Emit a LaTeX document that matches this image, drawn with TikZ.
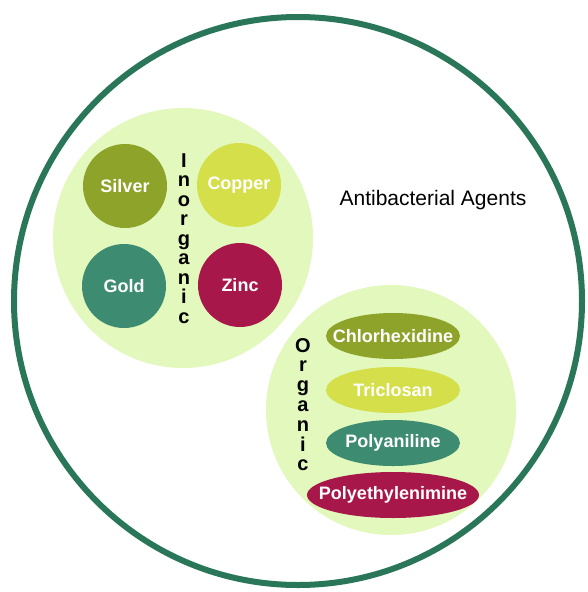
\documentclass[tikz,border=0pt]{standalone}
\usepackage{fontspec}
\setmainfont{Liberation Sans}
\usepackage{tikz}

\definecolor{ringgreen}{HTML}{2A7658}
\definecolor{palegreen}{HTML}{E2F8BC}
\definecolor{olivegreen}{HTML}{8EA32A}
\definecolor{limeyellow}{HTML}{D4DF4A}
\definecolor{tealgreen}{HTML}{3D8C72}
\definecolor{crimson}{HTML}{A8174A}

\begin{document}
\begin{tikzpicture}[x=1pt,y=-1pt,
                    metal/.style={circle,inner sep=0pt,minimum size=84pt,
                                  text=white,font=\bfseries\fontsize{18}{20}\selectfont},
                    compound/.style={inner sep=0pt,text=white,
                                  font=\bfseries\fontsize{18}{20}\selectfont},
                    letter/.style={inner sep=0pt,text height=14pt,text depth=4pt,
                                  font=\bfseries\fontsize{20}{22}\selectfont}]
    \useasboundingbox (0,0) rectangle (587,592);
    \fill[white] (0,0) rectangle (587,592);
    % outer ring
    \draw[ringgreen,line width=6pt,fill=white] (298,301) circle [radius=284pt];
    \node[font=\fontsize{21}{24}\selectfont] (title) at (433,200) {Antibacterial Agents};

    % inorganic group
    \fill[palegreen] (183,238) circle [radius=130pt];
    \node[metal,fill=olivegreen] (silver) at (125,186) {Silver};
    \node[metal,fill=limeyellow] (copper) at (239,185) {Copper};
    \node[metal,fill=tealgreen] (gold) at (124,286) {Gold};
    \node[metal,fill=crimson] (zinc) at (240,285) {Zinc};
    \foreach \ch [count=\i from 0] in {I,n,o,r,g,a,n,i,c}
        \node[letter] (inorg\i) at (184,162+19.5*\i) {\ch};

    % organic group
    \fill[palegreen] (391,410) circle [radius=125pt];
    \foreach \y/\col/\rx/\name/\txt in {336/olivegreen/67/chlor/Chlorhexidine,
                                       390/limeyellow/67/tricl/Triclosan,
                                       443/tealgreen/67/polyan/Polyaniline,
                                       495/crimson/86/polyeth/Polyethylenimine}{
        \fill[\col] (393,\y) ellipse [x radius=\rx pt,y radius=23pt];
        \node[compound] (\name) at (393,\y) {\txt};
    }
    \foreach \ch [count=\i from 0] in {O,r,g,a,n,i,c}
        \node[letter] (org\i) at (303,347+19.8*\i) {\ch};
\end{tikzpicture}
\end{document}
